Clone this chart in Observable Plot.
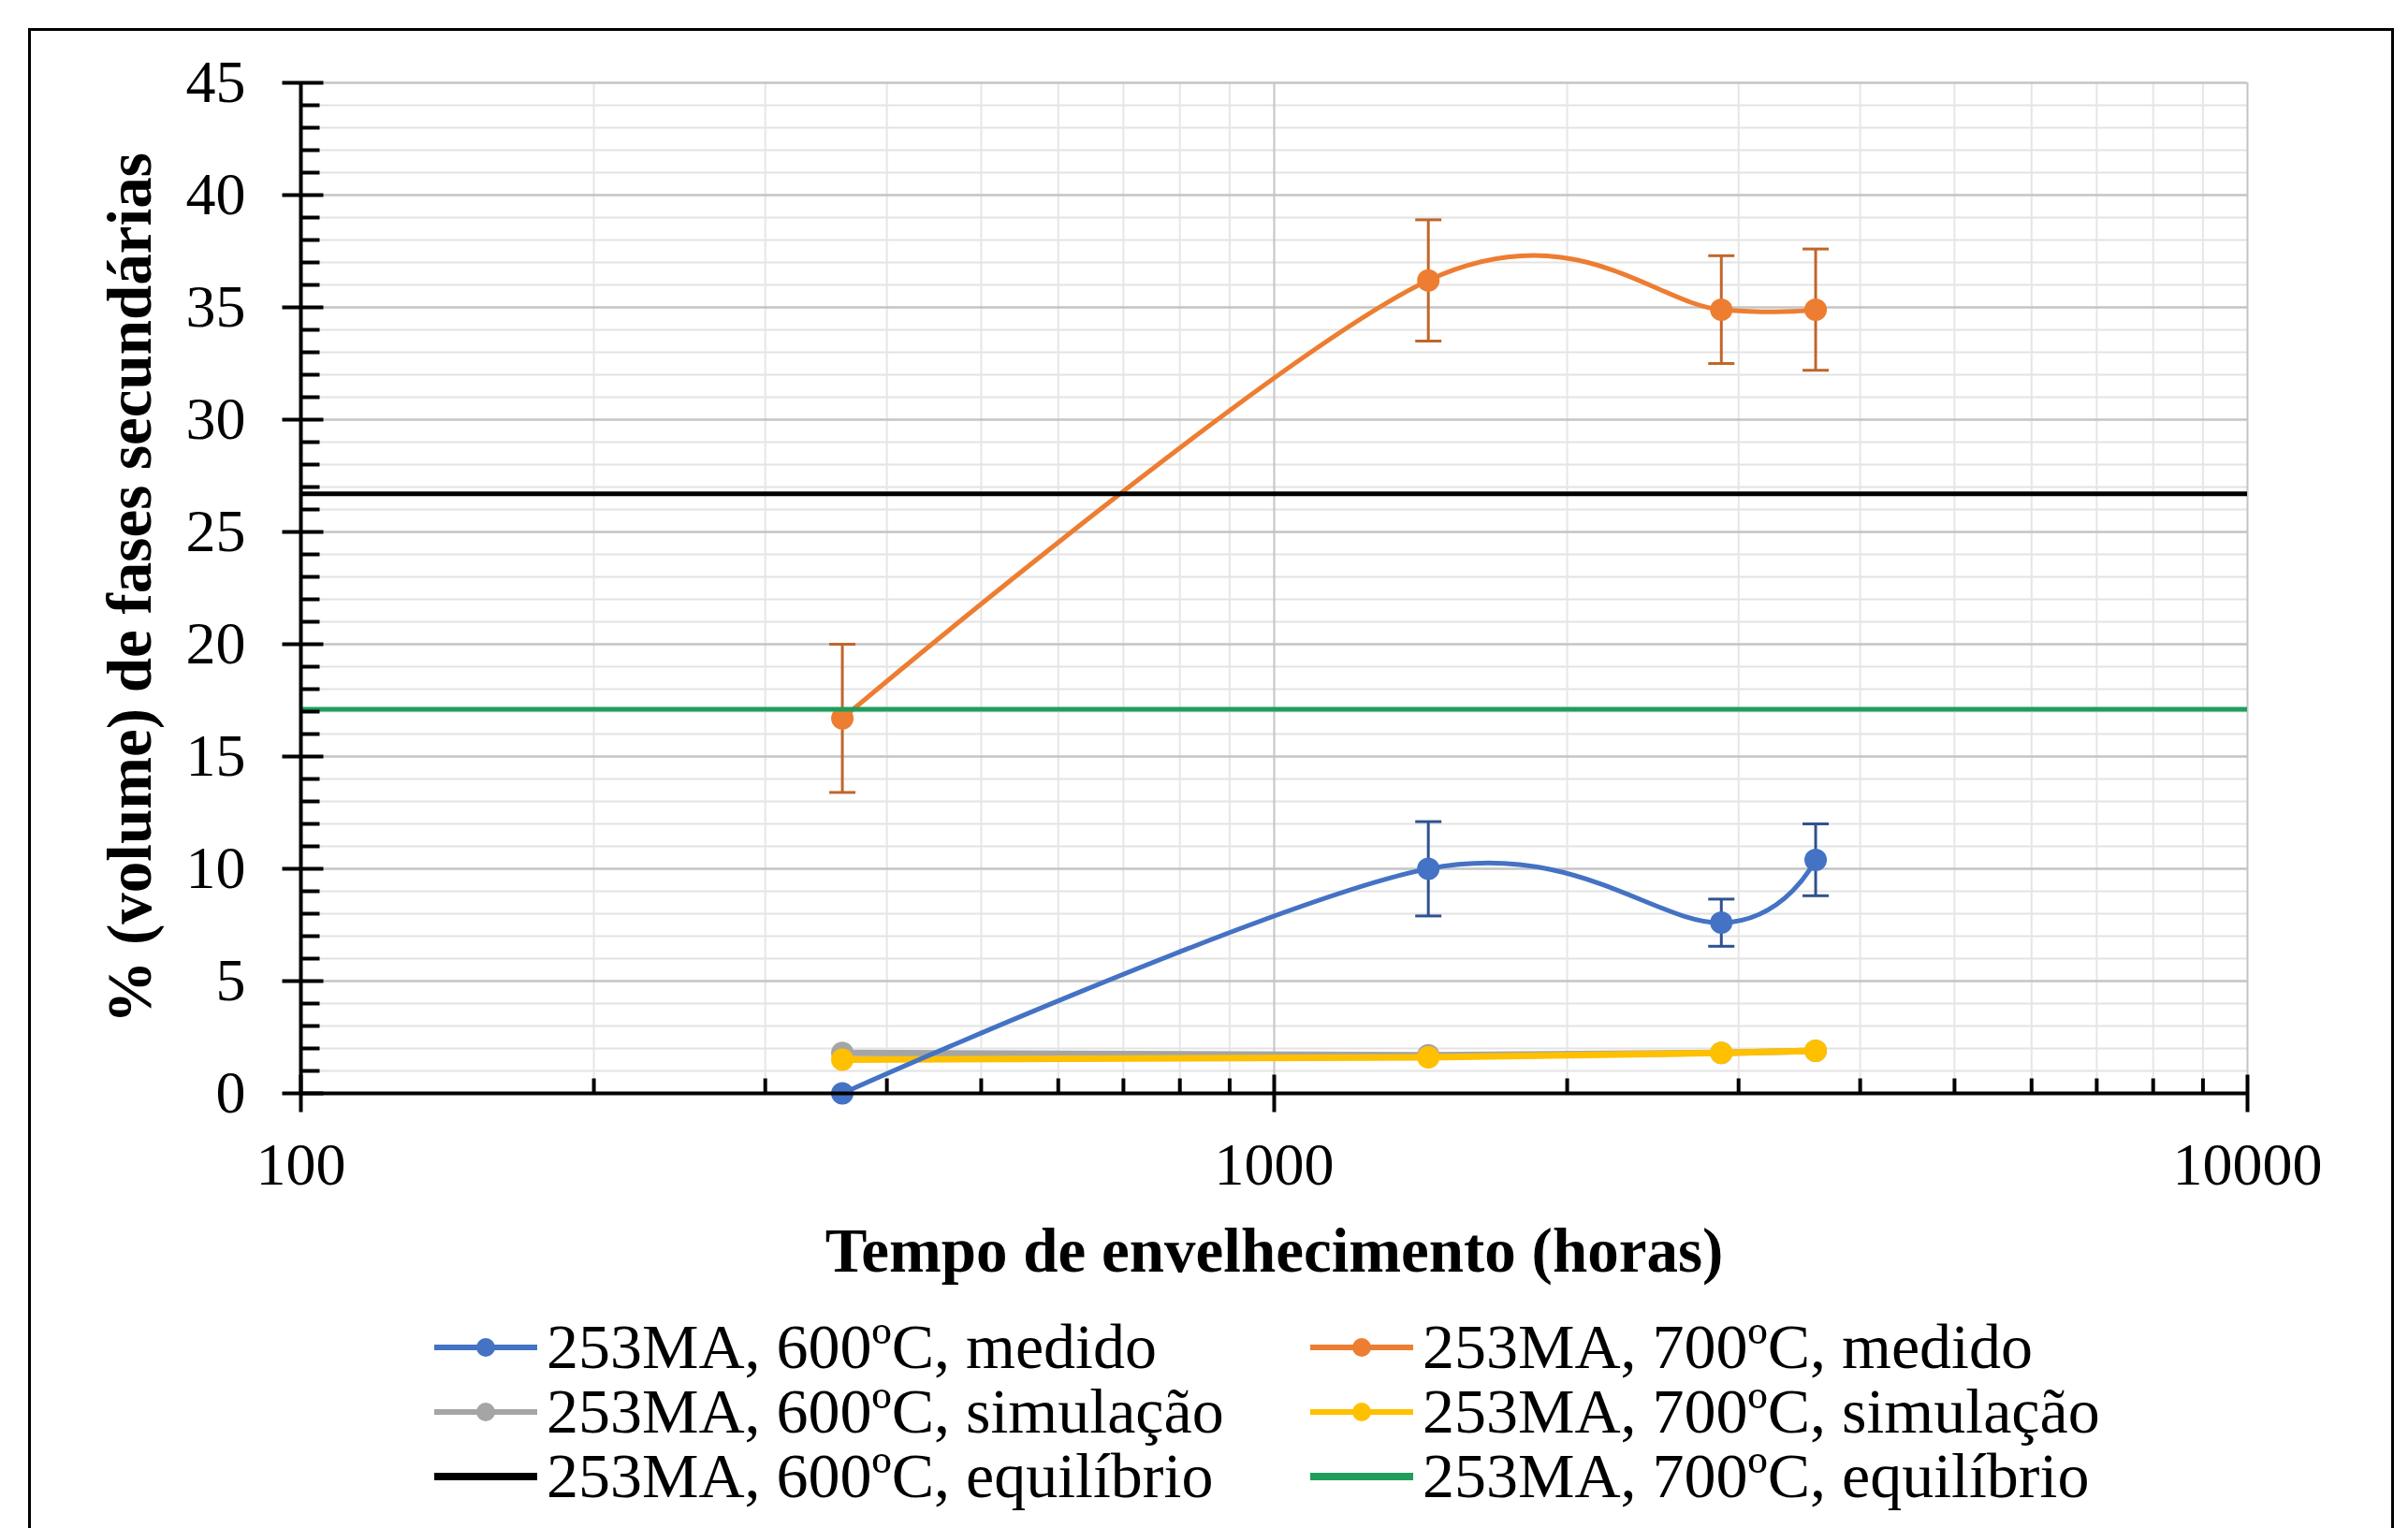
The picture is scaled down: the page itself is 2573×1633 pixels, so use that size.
<!DOCTYPE html>
<html>
<head>
<meta charset="utf-8">
<script src="https://cdn.jsdelivr.net/npm/d3@7"></script>
<script src="https://cdn.jsdelivr.net/npm/@observablehq/plot@0.6"></script>
<style>
  html, body { margin: 0; padding: 0; background: #fff; }
  #wrap { position: relative; width: 2573px; height: 1633px; overflow: hidden; background: #fff;
          font-family: "Liberation Serif", "Times New Roman", serif; color: #000; }
  #border { position: absolute; left: 30px; top: 30px; width: 2528px; height: 1640px;
            border: 3px solid #000; box-sizing: border-box; }
  #chart { position: absolute; left: 0; top: 0; }
  #chart svg [aria-label="x-axis label"] text, #chart svg [aria-label="y-axis label"] text { font-weight: bold; font-size: 67px; }
  .leg { position: absolute; height: 69px; display: flex; align-items: center; font-size: 68px; white-space: nowrap; }
  .leg svg { display: block; margin-right: 8px; }
</style>
</head>
<body>
<div id="wrap">
  <div id="border"></div>
  <div id="chart"></div>
  <div id="legend"></div>
</div>
<script>
// ---- data ----
const tempo = [360, 1440, 2880, 3600];                 // horas
const medido600 = [0, 10.0, 7.6, 10.4];
const erro600 = [0, 2.1, 1.05, 1.6];
const medido700 = [16.7, 36.2, 34.9, 34.9];
const erro700 = [3.3, 2.7, 2.4, 2.7];
const simulacao600 = [1.8, 1.7, 1.8, 1.9];
const simulacao700 = [1.5, 1.6, 1.8, 1.9];
const equilibrio600 = [26.7];
const equilibrio700 = [17.1];

const xTicksMajor = [100, 1000, 10000];
const xTicksMinor = [200, 300, 400, 500, 600, 700, 800, 900, 2000, 3000, 4000, 5000, 6000, 7000, 8000, 9000];
const yTicksMajor = [0, 5, 10, 15, 20, 25, 30, 35, 40, 45];
const yTicksMinor = d3.range(0, 46).filter(v => v % 5 !== 0);

const xLabel = "Tempo de envelhecimento (horas)";
const yLabel = "% (volume) de fases secundárias";

const seriesNames = [
  "253MA, 600ºC, medido", "253MA, 700ºC, medido",
  "253MA, 600ºC, simulação", "253MA, 700ºC, simulação",
  "253MA, 600ºC, equilíbrio", "253MA, 700ºC, equilíbrio"
];
const colors = {
  blue: "#4472C4", blueErr: "#2F528F",
  orange: "#ED7D31", orangeErr: "#C0662A",
  gray: "#A5A5A5", yellow: "#FFC000",
  black: "#000000", green: "#1E9E5A"
};

// ---- tables ----
const rows = (ys, errs) => tempo.map((t, i) => ({t, v: ys[i], e: errs ? errs[i] : 0}));
const d600 = rows(medido600, erro600);
const d700 = rows(medido700, erro700);
const s600 = rows(simulacao600);
const s700 = rows(simulacao700);
const err600 = d600.filter(d => d.e > 0);
const err700 = d700.filter(d => d.e > 0);

// custom tick / cap symbols
const hbar = {draw(ctx, size) { const w = Math.sqrt(size / Math.PI); ctx.moveTo(-w, 0); ctx.lineTo(w, 0); }};
const vbar = {draw(ctx, size) { const w = Math.sqrt(size / Math.PI); ctx.moveTo(0, -w); ctx.lineTo(0, w); }};

const chart = Plot.plot({
  width: 2573,
  height: 1390,
  marginLeft: 321,
  marginRight: 172,
  marginTop: 88,
  marginBottom: 222,
  x: {type: "log", domain: [100, 10000]},
  y: {domain: [0, 45]},
  style: {fontFamily: "Liberation Serif, Times New Roman, serif", fontSize: "64px", color: "#000", background: "transparent", overflow: "visible"},
  marks: [
    // grid
    Plot.gridY(yTicksMinor, {stroke: "#e3e3e3", strokeOpacity: 1, strokeWidth: 2}),
    Plot.gridX(xTicksMinor, {stroke: "#e6e6e6", strokeOpacity: 1, strokeWidth: 2}),
    Plot.gridY(yTicksMajor, {stroke: "#c4c4c4", strokeOpacity: 1, strokeWidth: 2.5}),
    Plot.gridX(xTicksMajor, {stroke: "#c4c4c4", strokeOpacity: 1, strokeWidth: 2}),
    // simulations
    Plot.line(s600, {x: "t", y: "v", stroke: colors.gray, strokeWidth: 7}),
    Plot.dot(s600, {x: "t", y: "v", fill: colors.gray, r: 12}),
    Plot.line(s700, {x: "t", y: "v", stroke: colors.yellow, strokeWidth: 7}),
    Plot.dot(s700, {x: "t", y: "v", fill: colors.yellow, r: 12}),
    // measured
    Plot.line(d600, {x: "t", y: "v", stroke: colors.blue, strokeWidth: 5, curve: "cardinal", tension: 0}),
    Plot.ruleX(err600, {x: "t", y1: d => d.v - d.e, y2: d => d.v + d.e, stroke: colors.blueErr, strokeWidth: 3}),
    Plot.dot(err600, {x: "t", y: d => d.v + d.e, symbol: hbar, r: 14, stroke: colors.blueErr, strokeWidth: 3}),
    Plot.dot(err600, {x: "t", y: d => d.v - d.e, symbol: hbar, r: 14, stroke: colors.blueErr, strokeWidth: 3}),
    Plot.dot(d600, {x: "t", y: "v", fill: colors.blue, r: 12}),
    Plot.line(d700, {x: "t", y: "v", stroke: colors.orange, strokeWidth: 5, curve: "cardinal", tension: 0}),
    Plot.ruleX(err700, {x: "t", y1: d => d.v - d.e, y2: d => d.v + d.e, stroke: colors.orangeErr, strokeWidth: 3}),
    Plot.dot(err700, {x: "t", y: d => d.v + d.e, symbol: hbar, r: 14, stroke: colors.orangeErr, strokeWidth: 3}),
    Plot.dot(err700, {x: "t", y: d => d.v - d.e, symbol: hbar, r: 14, stroke: colors.orangeErr, strokeWidth: 3}),
    Plot.dot(d700, {x: "t", y: "v", fill: colors.orange, r: 12}),
    // equilibrium
    Plot.ruleY(equilibrio600, {stroke: colors.black, strokeWidth: 5}),
    Plot.ruleY(equilibrio700, {stroke: colors.green, strokeWidth: 5}),
    // axis lines
    Plot.ruleX([100], {stroke: "#000", strokeWidth: 4}),
    Plot.ruleY([0], {stroke: "#000", strokeWidth: 4}),
    // axis tick marks
    Plot.dot(yTicksMajor, {x: () => 100, y: d => d, symbol: hbar, r: 22, dx: 2, stroke: "#000", strokeWidth: 4}),
    Plot.dot(yTicksMinor, {x: () => 100, y: d => d, symbol: hbar, r: 10, dx: 10, stroke: "#000", strokeWidth: 4}),
    Plot.dot(xTicksMajor, {x: d => d, y: () => 0, symbol: vbar, r: 20, dy: 0, stroke: "#000", strokeWidth: 4}),
    Plot.dot(xTicksMinor, {x: d => d, y: () => 0, symbol: vbar, r: 8, dy: -8, stroke: "#000", strokeWidth: 4}),
    // axes (labels)
    Plot.axisX({ticks: xTicksMajor, tickSize: 0, tickPadding: 52, tickFormat: d => String(d),
                label: xLabel, labelAnchor: "center", labelOffset: 190, labelArrow: "none"}),
    Plot.axisY({ticks: yTicksMajor, tickSize: 0, tickPadding: 59, tickFormat: d => String(d),
                label: yLabel, labelAnchor: "center", labelOffset: 208, labelArrow: "none"})
  ]
});
document.getElementById("chart").appendChild(chart);

// ---- legend ----
const legendItems = [
  {name: seriesNames[0], color: colors.blue, marker: true, left: 464, top: 1405},
  {name: seriesNames[1], color: colors.orange, marker: true, left: 1400, top: 1405},
  {name: seriesNames[2], color: colors.gray, marker: true, left: 464, top: 1474},
  {name: seriesNames[3], color: colors.yellow, marker: true, left: 1400, top: 1474},
  {name: seriesNames[4], color: colors.black, marker: false, left: 464, top: 1543},
  {name: seriesNames[5], color: colors.green, marker: false, left: 1400, top: 1543}
];
const legend = document.getElementById("legend");
for (const it of legendItems) {
  const div = document.createElement("div");
  div.className = "leg";
  div.style.left = it.left + "px";
  div.style.top = it.top + "px";
  const ns = "http://www.w3.org/2000/svg";
  const sw = document.createElementNS(ns, "svg");
  sw.setAttribute("width", 112); sw.setAttribute("height", 30);
  const ln = document.createElementNS(ns, "line");
  ln.setAttribute("x1", 0); ln.setAttribute("x2", 110); ln.setAttribute("y1", 15); ln.setAttribute("y2", 15);
  ln.setAttribute("stroke", it.color); ln.setAttribute("stroke-width", it.marker ? 6 : 8);
  sw.appendChild(ln);
  if (it.marker) {
    const c = document.createElementNS(ns, "circle");
    c.setAttribute("cx", 55); c.setAttribute("cy", 15); c.setAttribute("r", 10);
    c.setAttribute("fill", it.color);
    sw.appendChild(c);
  }
  div.appendChild(sw);
  const span = document.createElement("span");
  span.textContent = it.name;
  div.appendChild(span);
  legend.appendChild(div);
}
</script>
</body>
</html>
